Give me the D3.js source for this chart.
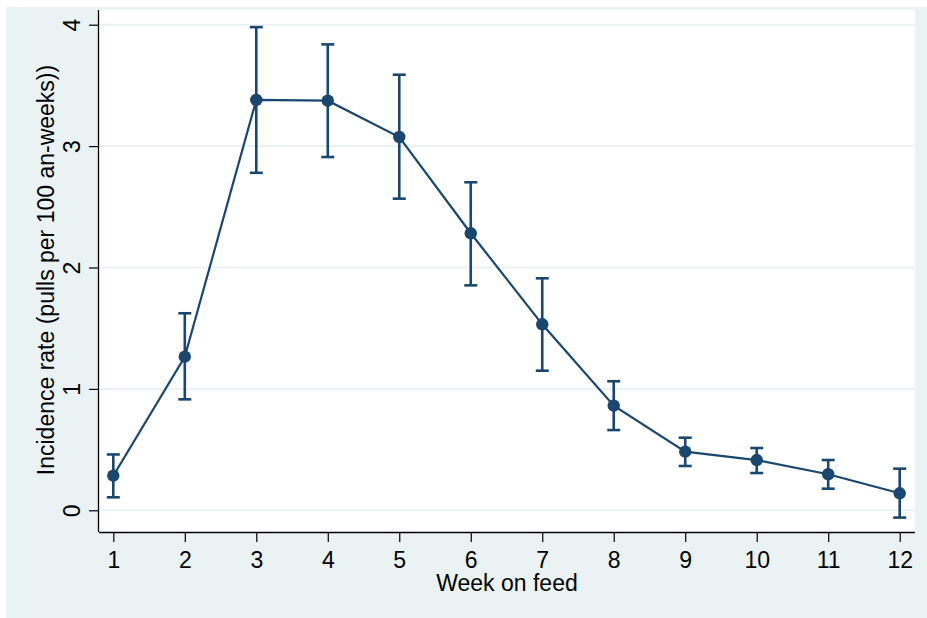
<!DOCTYPE html>
<html><head><meta charset="utf-8">
<script src="https://cdn.jsdelivr.net/npm/d3@7"></script>
<style>html,body{margin:0;padding:0;background:#fff;}svg{display:block;}</style>
</head><body>
<script>
const weeks = [1,2,3,4,5,6,7,8,9,10,11,12];
const rate  = [0.285,1.265,3.38,3.374,3.075,2.282,1.532,0.862,0.483,0.414,0.297,0.14];
const upper = [0.46,1.623,3.98,3.838,3.588,2.702,1.911,1.063,0.598,0.513,0.414,0.343];
const lower = [0.107,0.914,2.78,2.91,2.567,1.853,1.15,0.661,0.365,0.307,0.178,-0.06];
const yTicks = [0,1,2,3,4];
const xLabel = "Week on feed";
const yLabel = "Incidence rate (pulls per 100 an-weeks))";

const W = 927, H = 618;
const col = "#1a476f";
const font = "Liberation Sans, Arial, sans-serif";
const fs = 23;
const svg = d3.select("body").append("svg").attr("width",W).attr("height",H);
svg.append("rect").attr("x",6).attr("y",7).attr("width",W-6).attr("height",H-7).attr("fill","#eaf2f3");
const pl = 99, pr = 915, pt = 10, pb = 532;
svg.append("rect").attr("x",pl).attr("y",pt).attr("width",pr-pl).attr("height",pb-pt).attr("fill","#fff");

const x = d3.scaleLinear().domain([1,12]).range([113.3,899.7]);
const y = d3.scaleLinear().domain([0,4]).range([510.3,24.7]);

// gridlines
svg.append("g").selectAll("line").data(yTicks).join("line")
  .attr("x1",pl).attr("x2",pr).attr("y1",d=>y(d)).attr("y2",d=>y(d))
  .attr("stroke","#eaf2f3").attr("stroke-width",2);

// axes
const yAxis = d3.axisLeft(y).tickValues(yTicks).tickSize(10).tickPadding(6).tickFormat(d3.format("d"));
const gy = svg.append("g").attr("transform",`translate(${pl},0)`).call(yAxis);
const xAxis = d3.axisBottom(x).tickValues(weeks).tickSize(10).tickPadding(6).tickFormat(d3.format("d"));
const gx = svg.append("g").attr("transform",`translate(0,${pb})`).call(xAxis);
[gx,gy].forEach(g=>{
  g.select(".domain").attr("stroke","#000").attr("stroke-width",1.3);
  g.selectAll(".tick line").attr("stroke","#000").attr("stroke-width",1.2);
  g.selectAll("text").attr("font-family",font).attr("font-size",fs).attr("fill","#000");
});
gx.select(".domain").attr("d",`M${pl},0.5H${pr}`);
gy.select(".domain").attr("d",`M-0.5,${pt}V${pb}`);
gx.selectAll(".tick text").attr("y",36).attr("dy",0);
gy.selectAll(".tick text").attr("x",0).attr("y",0).attr("dy",0)
  .attr("text-anchor","middle")
  .attr("transform","translate(-19,0) rotate(-90)");

// labels
svg.append("text").attr("x",(pl+pr)/2).attr("y",591).attr("text-anchor","middle")
  .attr("font-family",font).attr("font-size",fs).attr("fill","#000").text(xLabel);
svg.append("text").attr("transform",`translate(54,270) rotate(-90)`).attr("text-anchor","middle")
  .attr("font-family",font).attr("font-size",fs).attr("fill","#000").text(yLabel);

const data = weeks.map((w,i)=>({w, r:rate[i], u:upper[i], l:lower[i]}));

// error bars
const eb = svg.append("g").attr("stroke",col).attr("stroke-width",2.6).attr("fill","none");
eb.selectAll(".v").data(data).join("line").attr("x1",d=>x(d.w)).attr("x2",d=>x(d.w)).attr("y1",d=>y(d.u)).attr("y2",d=>y(d.l));
eb.selectAll(".cu").data(data).join("line").attr("x1",d=>x(d.w)-6.5).attr("x2",d=>x(d.w)+6.5).attr("y1",d=>y(d.u)).attr("y2",d=>y(d.u));
eb.selectAll(".cl").data(data).join("line").attr("x1",d=>x(d.w)-6.5).attr("x2",d=>x(d.w)+6.5).attr("y1",d=>y(d.l)).attr("y2",d=>y(d.l));

// line
svg.append("path").datum(data).attr("fill","none").attr("stroke",col).attr("stroke-width",2.2)
  .attr("d",d3.line().x(d=>x(d.w)).y(d=>y(d.r)));
svg.append("g").selectAll("circle").data(data).join("circle")
  .attr("cx",d=>x(d.w)).attr("cy",d=>y(d.r)).attr("r",6.2).attr("fill",col);
</script>
</body></html>
